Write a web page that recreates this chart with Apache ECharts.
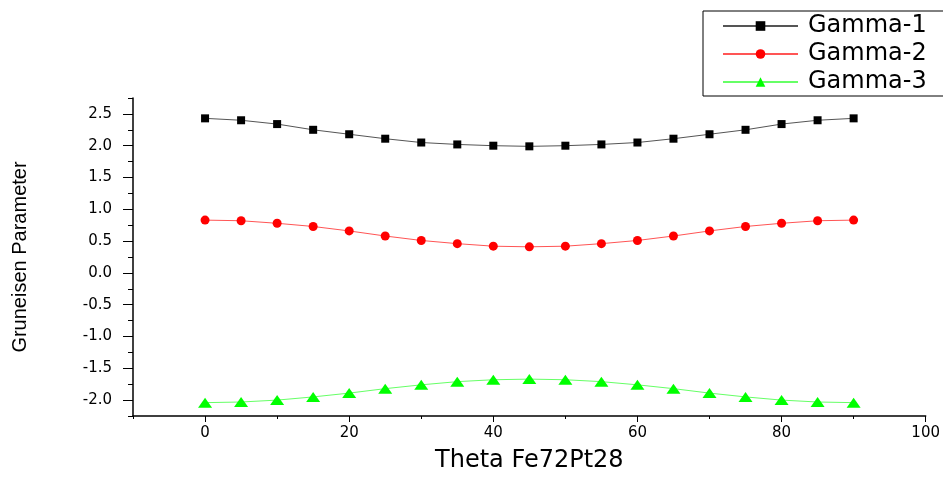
<!DOCTYPE html>
<html>
<head>
<meta charset="utf-8">
<script src="https://cdn.jsdelivr.net/npm/echarts@6/dist/echarts.min.js"></script>
<style>
  html, body { margin: 0; padding: 0; background: #fff; overflow: hidden; }
  #chartContainer { width: 100vw; height: 100vh; }
</style>
</head>
<body>
<div id="chartContainer"></div>
<script>
var theta = [0, 5, 10, 15, 20, 25, 30, 35, 40, 45, 50, 55, 60, 65, 70, 75, 80, 85, 90];
var gamma1 = [2.43, 2.40, 2.34, 2.25, 2.18, 2.11, 2.05, 2.02, 2.00, 1.99, 2.00, 2.02, 2.05, 2.11, 2.18, 2.25, 2.34, 2.40, 2.43];
var gamma2 = [0.83, 0.82, 0.78, 0.73, 0.66, 0.58, 0.51, 0.46, 0.42, 0.41, 0.42, 0.46, 0.51, 0.58, 0.66, 0.73, 0.78, 0.82, 0.83];
var gamma3 = [-2.04, -2.03, -2.00, -1.95, -1.89, -1.82, -1.76, -1.71, -1.68, -1.67, -1.68, -1.71, -1.76, -1.82, -1.89, -1.95, -2.00, -2.03, -2.04];
var xTicks = [0, 20, 40, 60, 80, 100];
var yTicks = [-2.0, -1.5, -1.0, -0.5, 0.0, 0.5, 1.0, 1.5, 2.0, 2.5];

function pairs(ys) {
    return theta.map(function (t, i) { return [t, ys[i]]; });
}

var chart = echarts.init(document.getElementById('chartContainer'));

var axisFont = { color: '#000', fontFamily: 'DejaVu Sans', fontSize: 15 };

chart.setOption({
    backgroundColor: '#fff',
    animation: false,
    legend: {
        orient: 'vertical',
        left: 703,
        top: 11,
        padding: [3, 20, 2, 19],
        itemWidth: 75,
        itemHeight: 12,
        itemGap: 4,
        borderColor: '#000',
        borderWidth: 1,
        textStyle: { color: '#000', fontFamily: 'DejaVu Sans', fontSize: 24, lineHeight: 23, padding: [0, 0, 0, 5] },
        data: ['Gamma-1', 'Gamma-2', 'Gamma-3']
    },
    grid: { left: 133, right: 16, top: 98, bottom: 55 },
    xAxis: [{
        type: 'value',
        min: -10,
        max: 100,
        interval: 10,
        name: 'Theta Fe72Pt28',
        nameLocation: 'middle',
        nameGap: 33,
        nameTextStyle: { color: '#000', fontFamily: 'DejaVu Sans', fontSize: 24 },
        axisLine: { onZero: false, lineStyle: { color: '#000', width: 1.5 } },
        axisTick: { length: 3, lineStyle: { color: '#000' } },
        axisLabel: { show: false },
        splitLine: { show: false }
    }, {
        type: 'value',
        position: 'bottom',
        min: -10,
        max: 100,
        axisLine: { show: false, onZero: false },
        axisTick: { customValues: xTicks, length: 6, lineStyle: { color: '#000' } },
        axisLabel: Object.assign({ customValues: xTicks, margin: 10 }, axisFont),
        splitLine: { show: false }
    }],
    yAxis: [{
        type: 'value',
        min: -2.25,
        max: 2.75,
        interval: 0.25,
        name: 'Gruneisen Parameter',
        nameLocation: 'middle',
        nameGap: 103,
        nameTextStyle: { color: '#000', fontFamily: 'Liberation Sans', fontSize: 20 },
        axisLine: { onZero: false, lineStyle: { color: '#000', width: 1.5 } },
        axisTick: { length: 5, lineStyle: { color: '#000' } },
        axisLabel: { show: false },
        splitLine: { show: false }
    }, {
        type: 'value',
        position: 'left',
        min: -2.25,
        max: 2.75,
        axisLine: { show: false, onZero: false },
        axisTick: { customValues: yTicks, length: 10, lineStyle: { color: '#000' } },
        axisLabel: Object.assign({
            customValues: yTicks,
            margin: 21,
            formatter: function (v) { return v.toFixed(1); }
        }, axisFont),
        splitLine: { show: false }
    }],
    series: [{
        name: 'Gamma-1',
        type: 'line',
        data: pairs(gamma1),
        symbol: 'rect',
        symbolSize: 8,
        itemStyle: { color: '#000' },
        lineStyle: { color: '#555', width: 1 }
    }, {
        name: 'Gamma-2',
        type: 'line',
        data: pairs(gamma2),
        symbol: 'circle',
        symbolSize: 9,
        itemStyle: { color: '#ff0000' },
        lineStyle: { color: '#ff5555', width: 1 }
    }, {
        name: 'Gamma-3',
        type: 'line',
        data: pairs(gamma3),
        symbol: 'triangle',
        symbolSize: [14, 10],
        itemStyle: { color: '#00ff00' },
        lineStyle: { color: '#66ff66', width: 1 }
    }]
});
</script>
</body>
</html>
